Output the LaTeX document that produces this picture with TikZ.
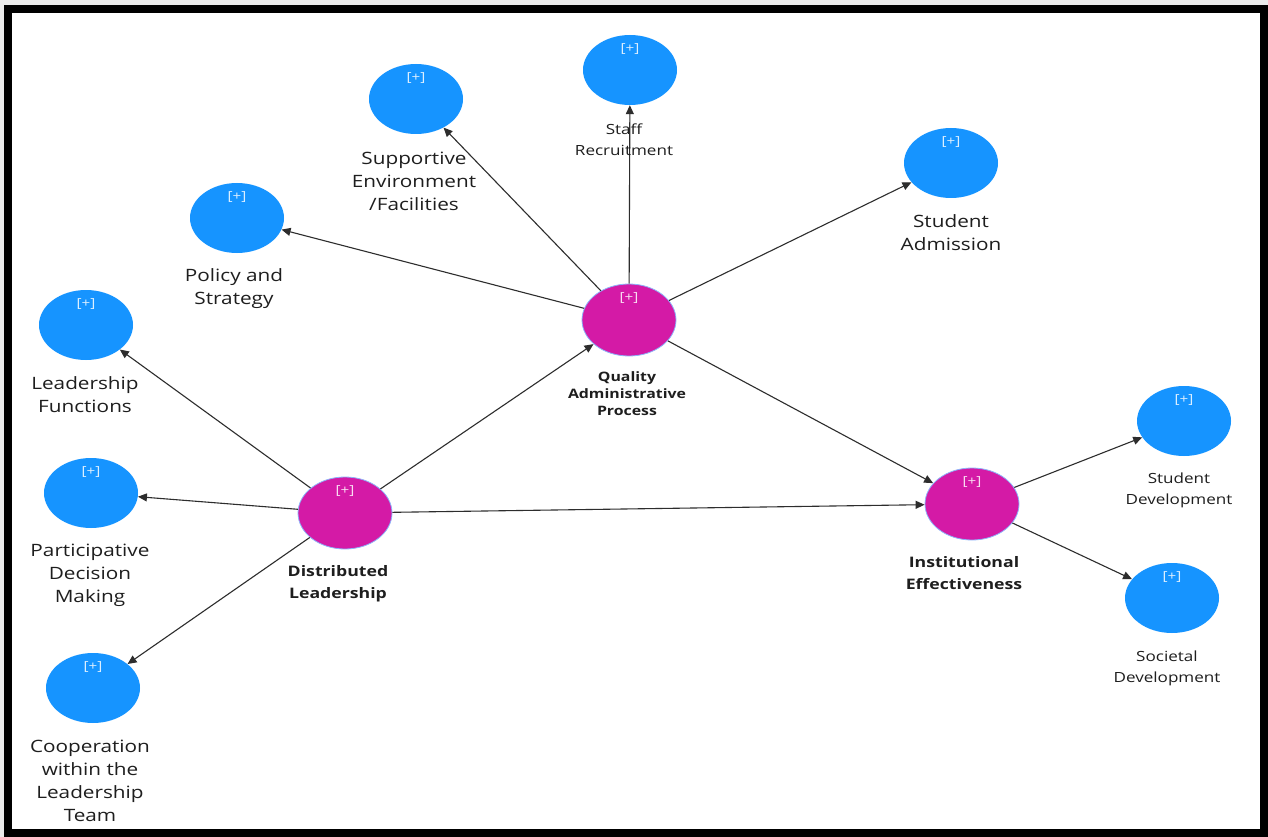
\documentclass[tikz,border=0pt]{standalone}
\usepackage{fontspec}
\setmainfont{Open Sans}[FakeStretch=1.22]
\usetikzlibrary{shapes.geometric,arrows.meta}
\definecolor{ind}{RGB}{22,148,255}
\definecolor{lat}{RGB}{212,26,166}
\definecolor{rim}{RGB}{140,180,250}
\definecolor{ln}{RGB}{45,45,45}
\definecolor{txt}{RGB}{30,30,30}
\begin{document}
\begin{tikzpicture}[x=1pt,y=-1pt,
  indic/.style={ellipse, fill=ind, minimum width=94, minimum height=70, inner sep=0},
  latent/.style={ellipse, fill=lat, draw=rim, line width=0.8, minimum width=94, minimum height=72, inner sep=0},
  plus/.style={text=white, text opacity=0.85, font=\fontsize{12.5}{12.5}\selectfont, inner sep=0},
  lab/.style={align=center, font=\fontsize{17}{23}\selectfont, text=txt, anchor=north, inner sep=0},
  slab/.style={align=center, font=\fontsize{14}{21}\selectfont, text=txt, anchor=north, inner sep=0},
  blab/.style={align=center, font=\bfseries\fontsize{14.5}{22}\selectfont, text=txt, anchor=north, inner sep=0},
  qlab/.style={align=center, font=\bfseries\fontsize{13}{17}\selectfont, text=txt, anchor=north, inner sep=0},
  arr/.style={draw=ln, line width=1.1, -{Triangle[length=9,width=8]}}]
\useasboundingbox (0,0) rectangle (1268,837);
\fill[black!8] (0,0) rectangle (1268,837);
\draw[line width=8, fill=white] (8,9) rectangle (1264,833);

% latent constructs
\node[latent] (qap) at (629,320) {};
\node[latent] (dl) at (345,513) {};
\node[latent] (ie) at (972,504) {};

% indicators
\node[indic] (staff) at (630,70) {};
\node[indic] (supp) at (416,99) {};
\node[indic] (pol) at (237,218) {};
\node[indic] (adm) at (951,163) {};
\node[indic] (lf) at (86,325) {};
\node[indic] (pdm) at (91,493) {};
\node[indic] (coop) at (93,688) {};
\node[indic] (sdev) at (1184,421) {};
\node[indic] (soc) at (1172,598) {};

% [+] marks
\foreach \n in {qap,dl,ie,staff,supp,pol,adm,lf,pdm,coop,sdev,soc}
  \node[plus] (\n p) at ([yshift=-14pt]\n.north) {[+]};

% connectors
\draw[arr] (qap) -- (staff);
\draw[arr] (qap) -- (supp);
\draw[arr] (qap) -- (pol);
\draw[arr] (qap) -- (adm);
\draw[arr] (dl) -- (lf);
\draw[arr] (dl) -- (pdm);
\draw[arr] (dl) -- (coop);
\draw[arr] (dl) -- (qap);
\draw[arr] (dl) -- (ie);
\draw[arr] (qap) -- (ie);
\draw[arr] (ie) -- (sdev);
\draw[arr] (ie) -- (soc);

% labels
\node[slab] (staffl) at (624,124) {Staff\\Recruitment};
\node[lab] (suppl) at (414,152) {Supportive\\Environment\\/Facilities};
\node[lab] (poll) at (234,268) {Policy and\\Strategy};
\node[lab] (adml) at (951,214) {Student\\Admission};
\node[lab] (lfl) at (85,376) {Leadership\\Functions};
\node[lab] (pdml) at (90,544) {Participative\\Decision\\Making};
\node[lab] (coopl) at (90,740) {Cooperation\\within the\\Leadership\\Team};
\node[slab] (sdevl) at (1179,473) {Student\\Development};
\node[slab] (socl) at (1167,651) {Societal\\Development};
\node[qlab] (qapl) at (627,371) {Quality\\Administrative\\Process};
\node[blab] (dll) at (338,565) {Distributed\\Leadership};
\node[blab] (iel) at (964,556) {Institutional\\Effectiveness};
\end{tikzpicture}
\end{document}
